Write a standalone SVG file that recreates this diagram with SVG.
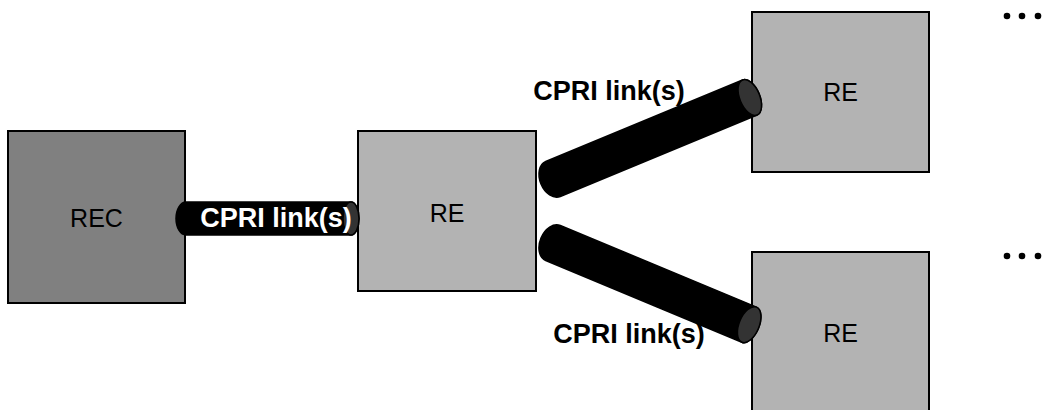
<svg xmlns="http://www.w3.org/2000/svg" width="1043" height="410" viewBox="0 0 1043 410">
<style>
.box{stroke:#000;stroke-width:2}
.rec{fill:#808080}
.re{fill:#b3b3b3}
.lbl{font-family:"Liberation Sans",Arial,sans-serif;font-size:25px;fill:#000;text-anchor:middle}
.cl{font-family:"Liberation Sans",Arial,sans-serif;font-size:27px;font-weight:bold;text-anchor:middle}
.body{fill:#000;stroke:#000;stroke-width:1.5}
.face{fill:#333;stroke:#000;stroke-width:1.5}
.dot{fill:#000}
</style>
<rect width="1043" height="410" fill="#fff"/>
<g id="rec">
<rect class="box rec" x="8" y="131" width="177" height="172"/>
<text class="lbl" x="96.5" y="227">REC</text>
</g>
<g id="re-mid">
<rect class="box re" x="358" y="131" width="178" height="160"/>
<text class="lbl" x="447" y="222">RE</text>
</g>
<g id="re-top">
<rect class="box re" x="752" y="12" width="177" height="160"/>
<text class="lbl" x="840.5" y="101">RE</text>
</g>
<g id="re-bottom">
<rect class="box re" x="752" y="252" width="177" height="162"/>
<text class="lbl" x="840.5" y="342">RE</text>
</g>
<g id="connectors">
<g transform="translate(186,218.5)">
<path class="body" d="M0,-16.5 L165,-16.5 A8 16.5 0 0 1 165,16.5 L0,16.5 A10 16.5 0 0 1 0,-16.5 Z"/>
<ellipse class="face" cx="165" cy="0" rx="8" ry="16.5"/>
</g>
<g transform="translate(553,179) rotate(-22.5)">
<path class="body" d="M0,-19 L213,-19 A10 19 0 0 1 213,19 L0,19 A13 19 0 0 1 0,-19 Z"/>
<ellipse class="face" cx="213" cy="0" rx="10" ry="19"/>
</g>
<g transform="translate(553,243) rotate(22.6)">
<path class="body" d="M0,-19 L212.5,-19 A10 19 0 0 1 212.5,19 L0,19 A13 19 0 0 1 0,-19 Z"/>
<ellipse class="face" cx="212.5" cy="0" rx="10" ry="19"/>
</g>
<text class="cl" x="276" y="227" fill="#fff">CPRI link(s)</text>
<text class="cl" x="609" y="100" fill="#000">CPRI link(s)</text>
<text class="cl" x="629" y="343" fill="#000">CPRI link(s)</text>
</g>
<g id="more-top">
<circle class="dot" cx="1007" cy="16" r="3.3"/>
<circle class="dot" cx="1022" cy="16" r="3.3"/>
<circle class="dot" cx="1038" cy="16" r="3.3"/>
</g>
<g id="more-bottom">
<circle class="dot" cx="1007" cy="256" r="3.3"/>
<circle class="dot" cx="1022" cy="256" r="3.3"/>
<circle class="dot" cx="1038" cy="256" r="3.3"/>
</g>
</svg>
